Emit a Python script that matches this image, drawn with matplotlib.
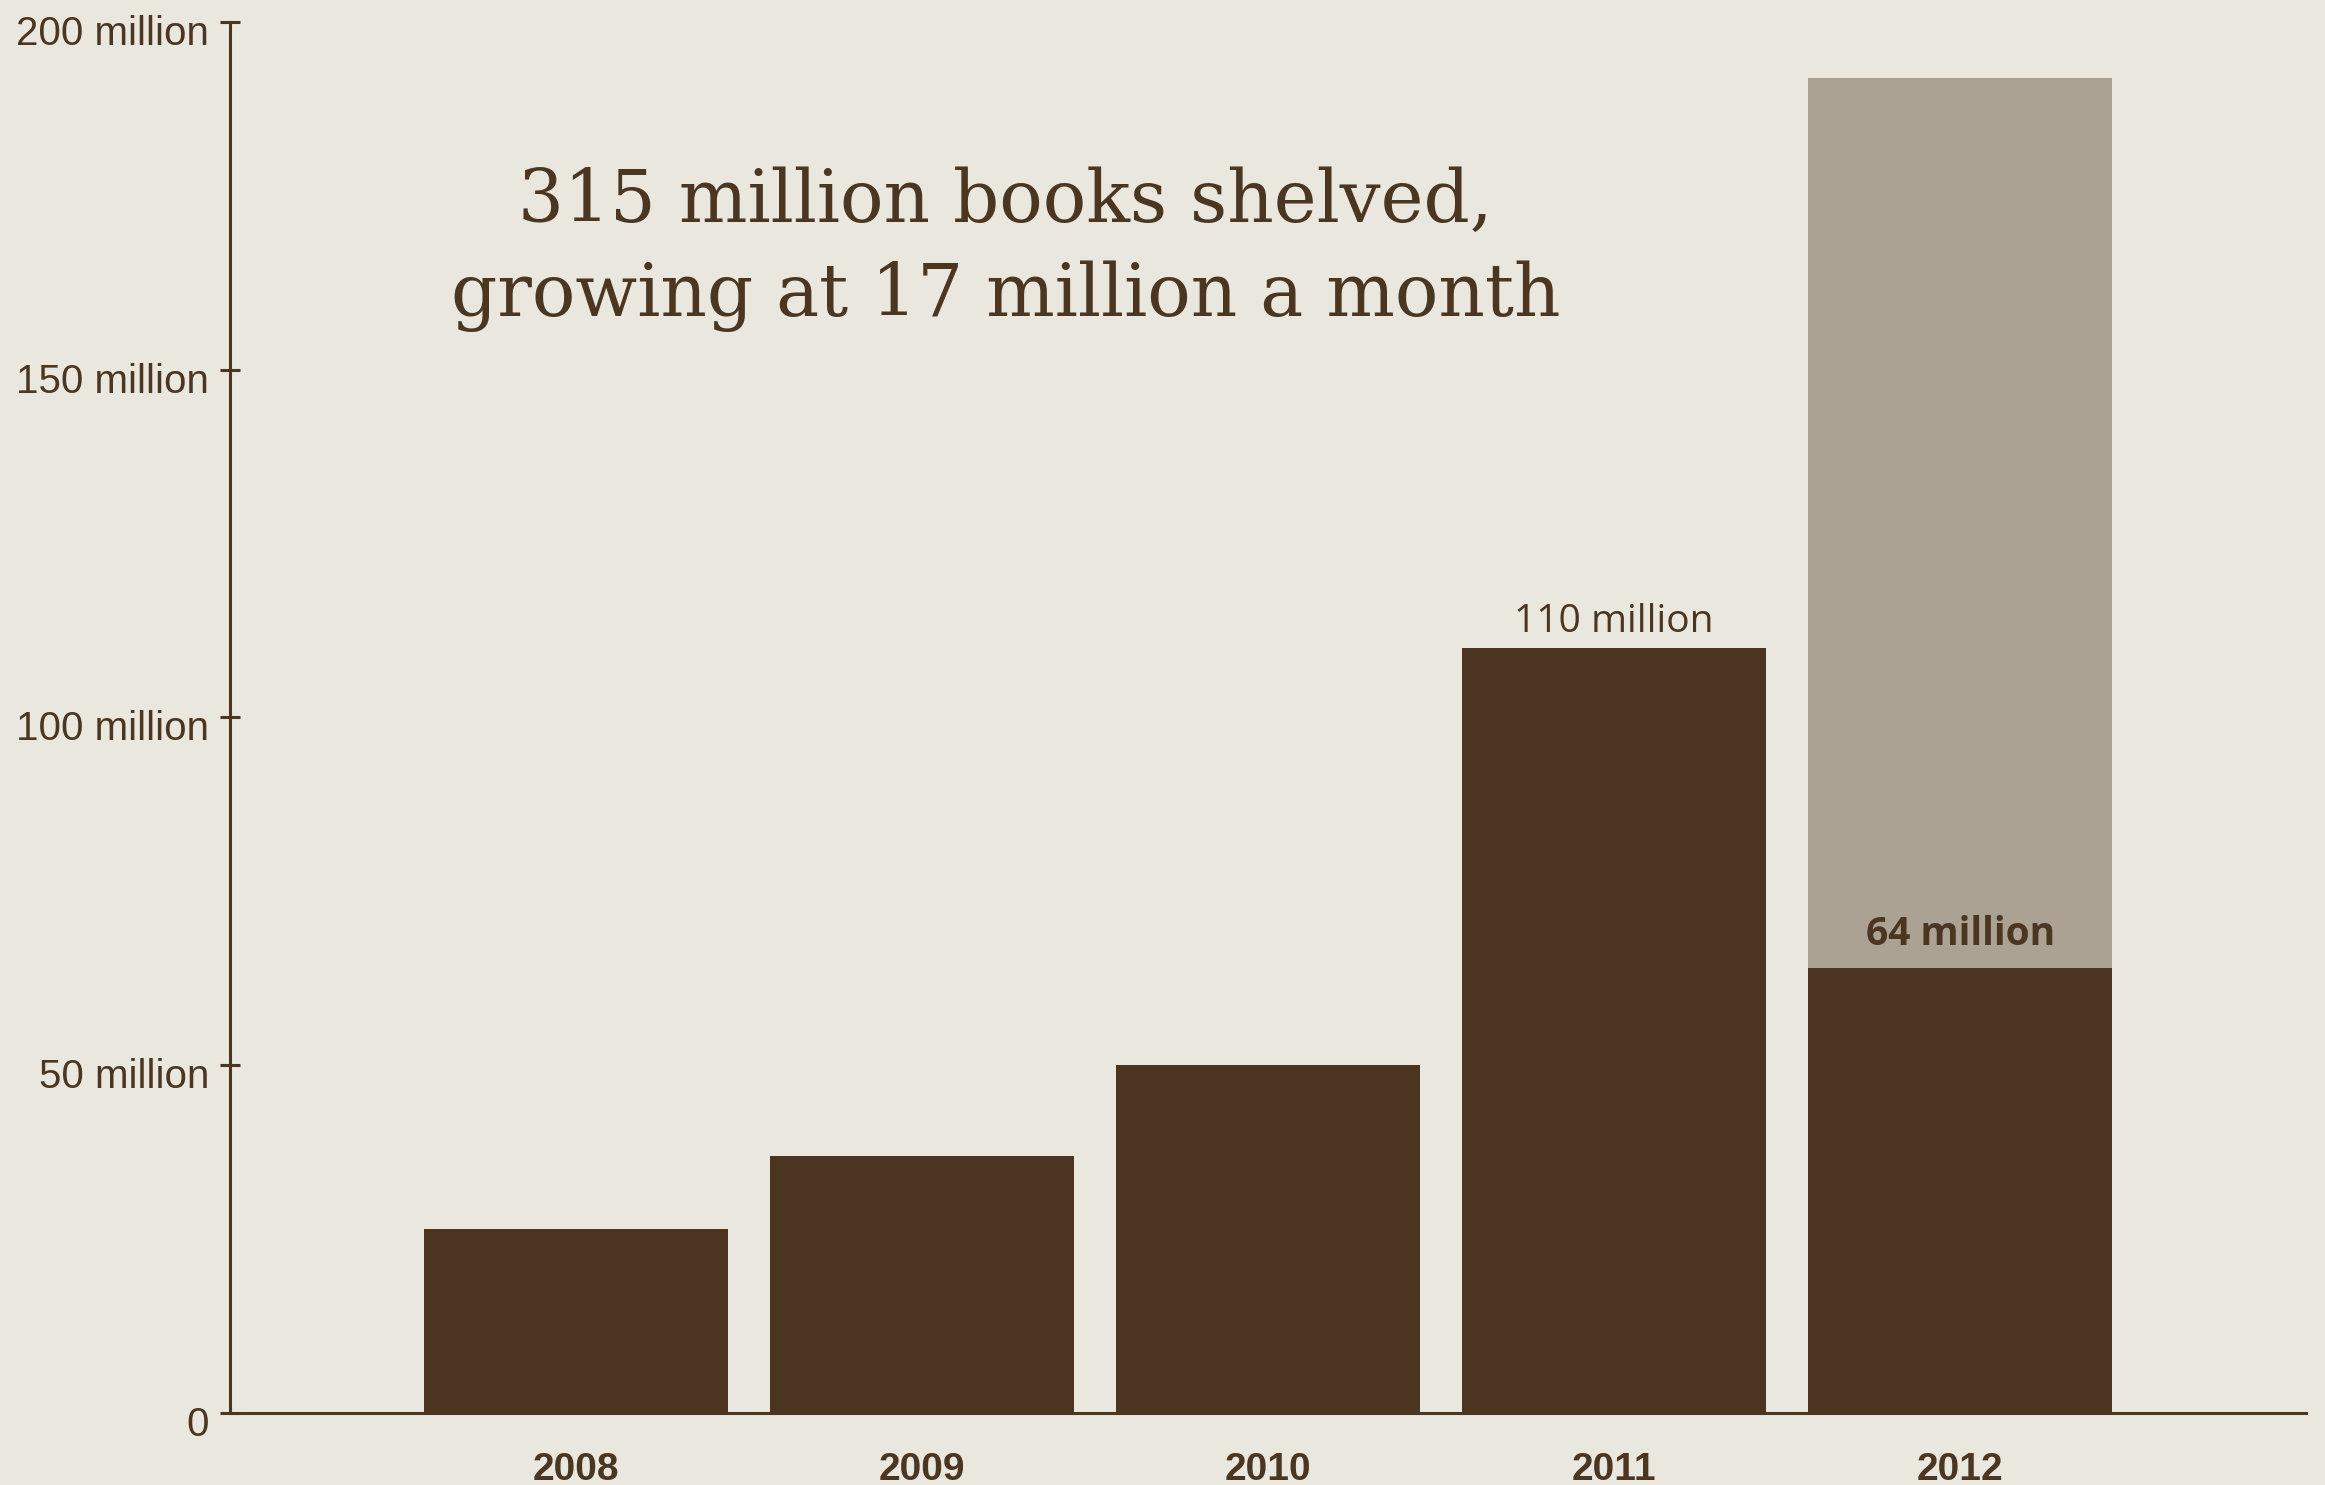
import matplotlib
matplotlib.use('Agg')
from matplotlib import pyplot as plt
from matplotlib.transforms import ScaledTranslation

years = ['2008', '2009', '2010', '2011', '2012']
books_shelved = [26.5, 37, 50, 110, 64]   # millions
projected_2012 = 192                       # millions, light bar
labels = {3: '110 million', 4: '64 million'}
y_ticks = [0, 50, 100, 150, 200]
y_tick_labels = ['0', '50 million', '100 million', '150 million', '200 million']
title_lines = ['315 million books shelved,', 'growing at 17 million a month']

bg = '#EAE7DF'
dark = '#4C3520'
light = '#ABA294'
ink = '#4B3621'

if __name__ == '__main__':
    fig = plt.figure(figsize=(23.25, 14.85), dpi=100, facecolor=bg)
    ax = fig.add_axes([0.0989, 0.0485, 0.893, 0.9367], facecolor=bg)

    x = list(range(len(years)))
    ax.bar(x[-1], projected_2012, width=0.88, color=light, zorder=1)
    ax.bar(x, books_shelved, width=0.88, color=dark, zorder=2)

    # value labels
    ax.annotate(labels[3], (3, books_shelved[3]), xytext=(0, 5), textcoords='offset points',
                ha='center', va='bottom', fontsize=28, family='Open Sans', color=ink)
    ax.annotate(labels[4], (4, books_shelved[4]), xytext=(0, 10), textcoords='offset points',
                ha='center', va='bottom', fontsize=28, family='Open Sans',
                fontweight='bold', color=ink)

    # headline
    ax.text(1.242, 171.2, title_lines[0], ha='center', va='baseline',
            fontsize=52, family='DejaVu Serif', color=ink)
    ax.text(1.242, 157.7, title_lines[1], ha='center', va='baseline',
            fontsize=52, family='DejaVu Serif', color=ink)

    ax.set_xlim(-1, 5)
    ax.set_ylim(0, 200)
    ax.set_xticks(x)
    ax.set_xticklabels(years, fontsize=28, fontweight='bold', family='Liberation Sans', color=ink)
    ax.set_yticks(y_ticks)
    ax.set_yticklabels(y_tick_labels, fontsize=29, family='Liberation Sans', color=ink)
    ax.tick_params(axis='x', length=0, pad=28)
    ax.tick_params(axis='y', direction='inout', length=14, width=2.2, color=ink, pad=8)

    off = ScaledTranslation(0, -0.08, fig.dpi_scale_trans)
    for lab in ax.get_yticklabels():
        lab.set_transform(lab.get_transform() + off)

    for side in ['top', 'right']:
        ax.spines[side].set_visible(False)
    for side in ['left', 'bottom']:
        ax.spines[side].set_color(ink)
        ax.spines[side].set_linewidth(2.2)

    plt.savefig('out.png', facecolor=bg)
